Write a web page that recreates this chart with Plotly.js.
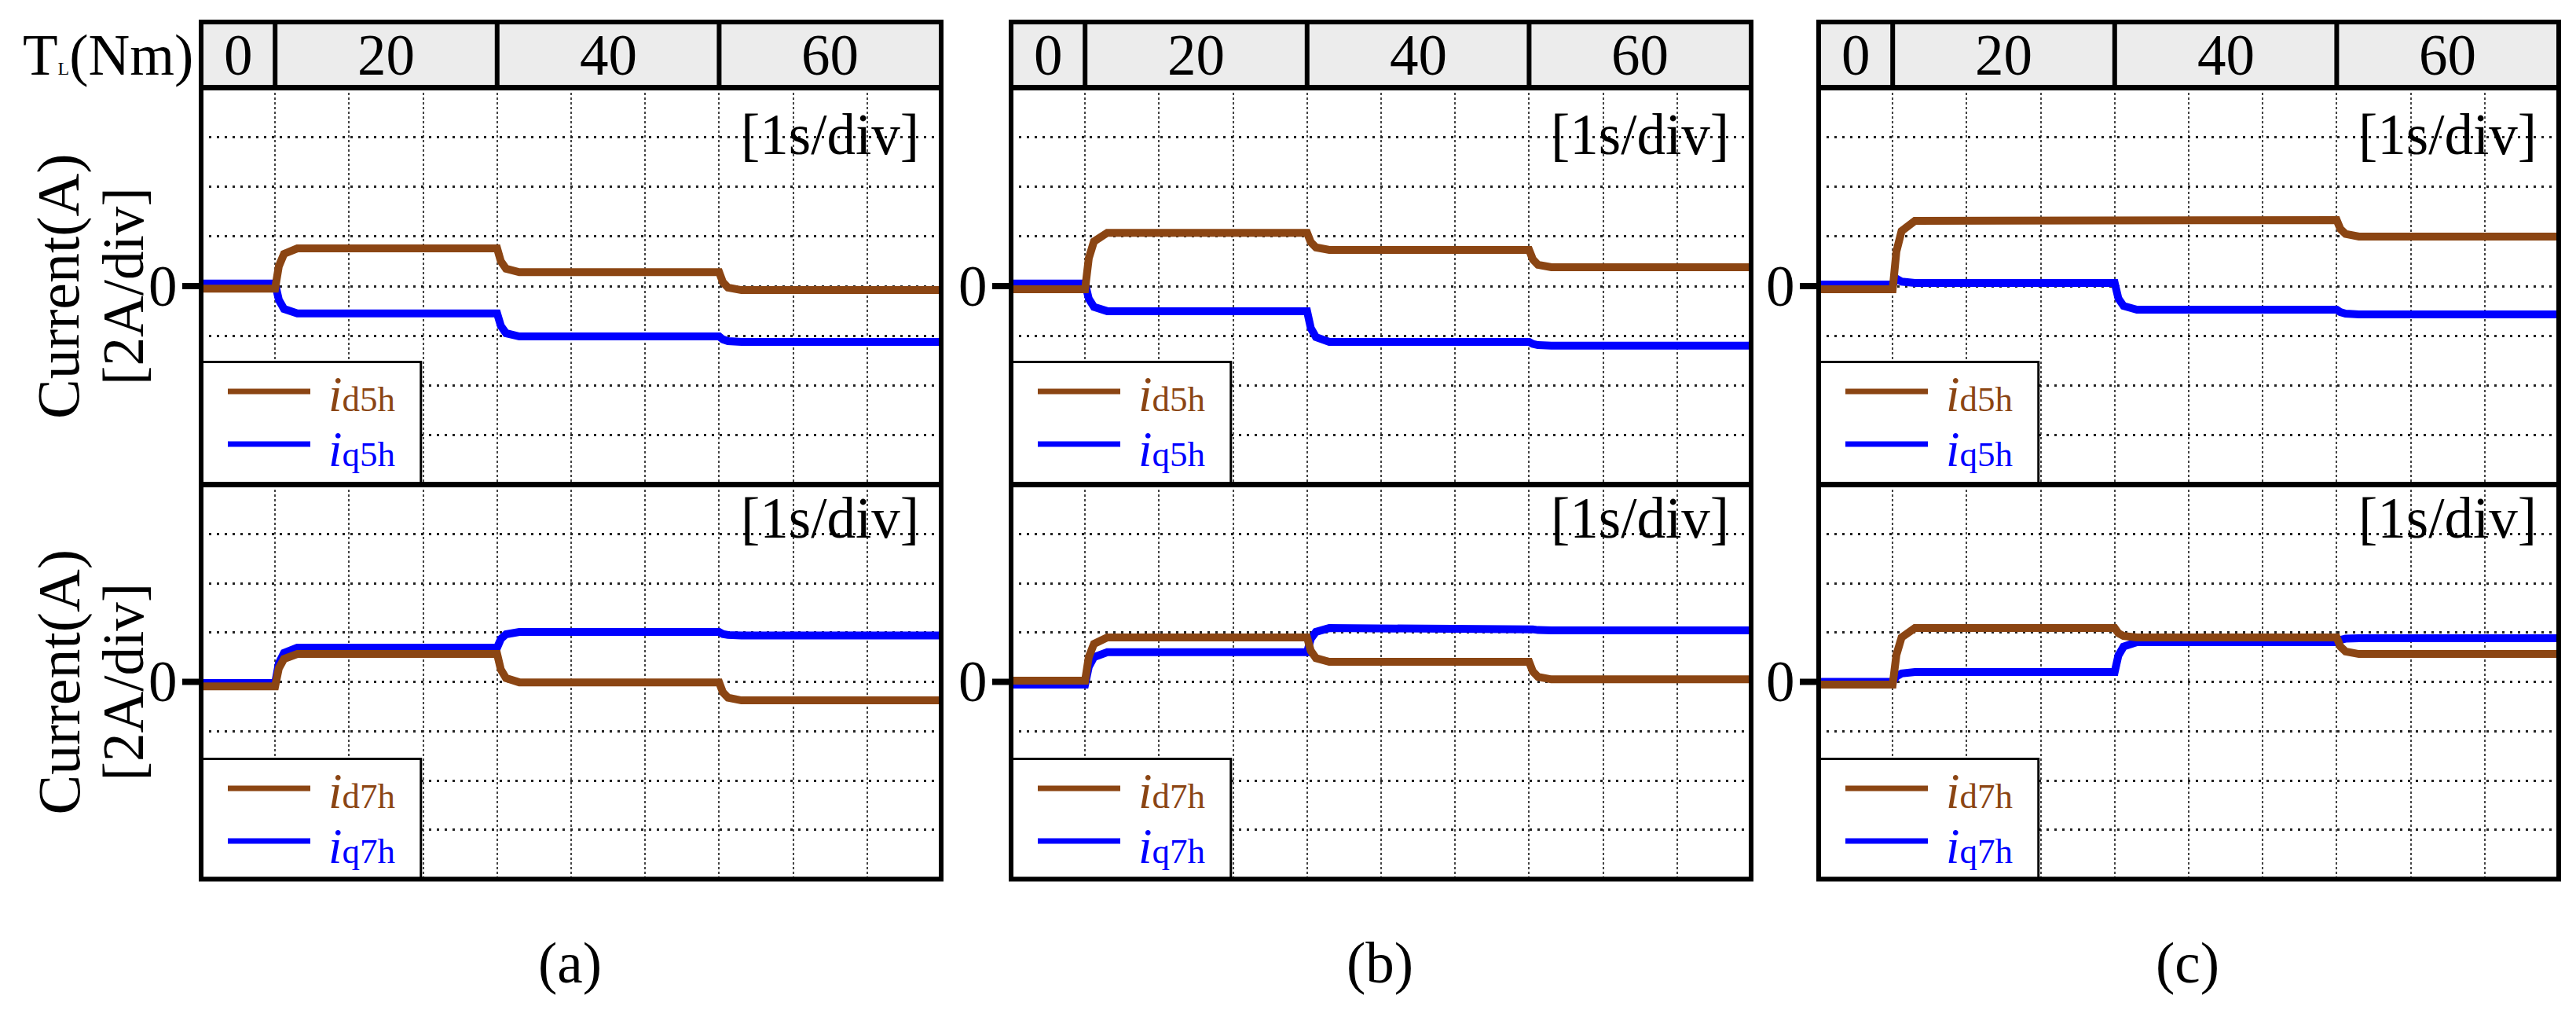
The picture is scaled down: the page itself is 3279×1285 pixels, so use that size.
<!DOCTYPE html>
<html>
<head>
<meta charset="utf-8">
<script src="https://cdn.plot.ly/plotly-3.0.1.min.js"></script>
<style>html,body{margin:0;padding:0;background:#fff;}#chart{width:3279px;height:1285px;}</style>
</head>
<body>
<div id="chart"></div>
<script>
// ---------- DATA (time in s, current in A; 2 A/div, 1 s/div) ----------
const time = [0, 1, 1.05, 1.12, 1.3, 4, 4.05, 4.12, 4.3, 7, 7.05, 7.12, 7.3, 10];

// panel (a)
const a_id5h = [-0.1, -0.1, 0.8, 1.3, 1.52, 1.52, 1.0, 0.7, 0.56, 0.56, 0.16, -0.06, -0.16, -0.16];
const a_iq5h = [0.1, 0.1, -0.55, -0.92, -1.1, -1.1, -1.6, -1.9, -2.03, -2.03, -2.15, -2.22, -2.25, -2.25];
const a_id7h = [-0.18, -0.18, 0.55, 0.93, 1.13, 1.13, 0.5, 0.15, -0.02, -0.02, -0.42, -0.64, -0.75, -0.75];
const a_iq7h = [-0.05, -0.05, 0.75, 1.17, 1.39, 1.39, 1.74, 1.93, 2.02, 2.02, 1.94, 1.9, 1.88, 1.88];
// panel (b)
const b_id5h = [-0.13, -0.13, 1.12, 1.8, 2.15, 2.15, 1.77, 1.56, 1.46, 1.46, 1.08, 0.86, 0.76, 0.76];
const b_iq5h = [0.1, 0.1, -0.51, -0.84, -1.01, -1.01, -1.69, -2.06, -2.25, -2.25, -2.33, -2.38, -2.4, -2.4];
const b_id7h = [0.05, 0.05, 1.01, 1.54, 1.8, 1.8, 1.26, 0.96, 0.81, 0.81, 0.42, 0.2, 0.1, 0.1];
const b_iq7h = [-0.11, -0.11, 0.61, 1.0, 1.2, 1.2, 1.74, 2.03, 2.18, 2.18, 2.13, 2.1, 2.09, 2.09];
// panel (c)
const c_id5h = [-0.13, -0.13, 1.39, 2.22, 2.63, 2.63, 2.65, 2.66, 2.66, 2.66, 2.3, 2.1, 2.0, 2.0];
const c_iq5h = [0.06, 0.06, 0.3, 0.18, 0.13, 0.13, -0.5, -0.8, -0.95, -0.95, -1.05, -1.11, -1.14, -1.14];
const c_id7h = [-0.11, -0.11, 1.09, 1.8, 2.18, 2.18, 1.97, 1.86, 1.8, 1.8, 1.43, 1.23, 1.13, 1.13];
const c_iq7h = [0, 0, 0.22, 0.34, 0.4, 0.4, 1.07, 1.43, 1.61, 1.61, 1.7, 1.75, 1.77, 1.77];

// load torque steps
const torqueLabels = ['0', '20', '40', '60'];
const torqueStepTimes = [0, 1, 4, 7, 10];

const panelLabels = ['(a)', '(b)', '(c)'];
const seriesTop = [[a_id5h, a_iq5h], [b_id5h, b_iq5h], [c_id5h, c_iq5h]];
const seriesBottom = [[a_id7h, a_iq7h], [b_id7h, b_iq7h], [c_id7h, c_iq7h]];
const legendTop = ['d5h', 'q5h'];
const legendBottom = ['d7h', 'q7h'];
const yGridVals = [-6, -4, -2, 0, 2, 4, 6];
const yZeroLabel = '0';
const xGridVals = [1, 2, 3, 4, 5, 6, 7, 8, 9];

// ---------- LAYOUT ----------
const W = 3279, H = 1285;
const px = v => v / W;
const py = v => 1 - v / H;
const FONT = '"Liberation Serif", "Times New Roman", Times, serif';
const BROWN = '#8b4513';
const BLUE = '#0000ff';

const panelLeft = [256, 1287, 2315];
const panelW = 942;
const headerTop = 28, headerBot = 111.5, midLine = 616.5, bottomLine = 1118.5;
const rowTop = [headerBot, midLine];
const rowBot = [midLine, bottomLine];

const layout = {
  width: W, height: H, autosize: false,
  margin: {l: 0, r: 0, t: 0, b: 0, pad: 0},
  paper_bgcolor: '#ffffff', plot_bgcolor: '#ffffff',
  showlegend: false,
  font: {family: FONT, color: '#000', size: 73},
  shapes: [], annotations: []
};
const traces = [];

const legendText = (names) =>
  '<span style="color:' + BROWN + '"><i><span style="font-size:63px">i</span></i>' +
  '<span style="font-size:45px">' + names[0] + '</span></span><br>' +
  '<span style="color:' + BLUE + '"><i><span style="font-size:63px">i</span></i>' +
  '<span style="font-size:45px">' + names[1] + '</span></span>';

for (let p = 0; p < 3; p++) {
  const L = panelLeft[p];
  for (let r = 0; r < 2; r++) {
    const idx = p * 2 + r + 1;
    const xn = idx === 1 ? 'x' : 'x' + idx;
    const yn = idx === 1 ? 'y' : 'y' + idx;
    const xk = idx === 1 ? 'xaxis' : 'xaxis' + idx;
    const yk = idx === 1 ? 'yaxis' : 'yaxis' + idx;
    layout[xk] = {
      domain: [px(L), px(L + panelW)], range: [0, 10], anchor: yn,
      tickmode: 'array', tickvals: xGridVals, showticklabels: false, ticks: '',
      showgrid: true, gridcolor: '#444', gridwidth: 2, griddash: '3px,3px',
      zeroline: false, showline: false, fixedrange: true
    };
    layout[yk] = {
      domain: [py(rowBot[r]), py(rowTop[r])], range: [-8, 8], anchor: xn,
      tickmode: 'array', tickvals: yGridVals, showticklabels: false, ticks: '',
      showgrid: true, gridcolor: '#222', gridwidth: 3, griddash: '3px,7px',
      zeroline: false, showline: false, fixedrange: true
    };
    const data = r === 0 ? seriesTop[p] : seriesBottom[p];
    const names = r === 0 ? legendTop : legendBottom;
    // q (blue) first, d (brown) on top
    traces.push({x: time, y: data[1], xaxis: xn, yaxis: yn, mode: 'lines',
      line: {color: BLUE, width: 10}, name: 'i' + names[1], hoverinfo: 'skip'});
    traces.push({x: time, y: data[0], xaxis: xn, yaxis: yn, mode: 'lines',
      line: {color: BROWN, width: 10}, name: 'i' + names[0], hoverinfo: 'skip'});

    // zero tick mark and its label
    layout.shapes.push({type: 'line', xref: 'paper', yref: yn, x0: px(L - 24), x1: px(L), y0: 0, y1: 0,
      line: {color: '#000', width: 8}, layer: 'above'});
    layout.annotations.push({xref: 'paper', yref: yn, x: px(L - 28), y: 0,
      xanchor: 'right', yanchor: 'middle', showarrow: false, text: yZeroLabel,
      font: {family: FONT, size: 73, color: '#000'}});
    // legend box
    const T0 = rowTop[r];
    layout.shapes.push({type: 'rect', xref: xn, yref: 'paper', x0: 0, x1: 2.97,
      y0: py(rowBot[r]), y1: py(T0 + 349), fillcolor: '#fff', line: {color: '#000', width: 3}, layer: 'above'});
    layout.shapes.push({type: 'line', xref: 'paper', yref: 'paper', x0: px(L + 34), x1: px(L + 139),
      y0: py(T0 + 386.5), y1: py(T0 + 386.5), line: {color: BROWN, width: 7}, layer: 'above'});
    layout.shapes.push({type: 'line', xref: 'paper', yref: 'paper', x0: px(L + 34), x1: px(L + 139),
      y0: py(T0 + 453.5), y1: py(T0 + 453.5), line: {color: BLUE, width: 7}, layer: 'above'});
    layout.annotations.push({xref: 'paper', yref: 'paper', x: px(L + 160), y: py(T0 + 425),
      xanchor: 'left', yanchor: 'middle', align: 'left', showarrow: false,
      text: legendText(names), font: {family: FONT, size: 54, color: '#000'}});
    // [1s/div]
    layout.annotations.push({xref: 'paper', yref: 'paper', x: px(L + panelW - 26),
      y: py(r === 0 ? 172 : 660), xanchor: 'right', yanchor: 'middle', showarrow: false,
      text: '[1s/div]', font: {family: FONT, size: 73, color: '#000'}});
  }
  const xTop = p === 0 ? 'x' : 'x' + (p * 2 + 1);
  // header fill
  layout.shapes.push({type: 'rect', xref: xTop, yref: 'paper', x0: 0, x1: 10,
    y0: py(headerBot), y1: py(headerTop), fillcolor: '#ececec', line: {width: 0}, layer: 'below'});
  // header dividers & labels
  for (let k = 0; k < torqueLabels.length; k++) {
    const t0 = torqueStepTimes[k], t1 = torqueStepTimes[k + 1];
    if (k > 0) {
      layout.shapes.push({type: 'line', xref: xTop, yref: 'paper', x0: t0, x1: t0,
        y0: py(headerBot), y1: py(headerTop), line: {color: '#000', width: 6}, layer: 'above'});
    }
    layout.annotations.push({xref: xTop, yref: 'paper', x: (t0 + t1) / 2, y: py(70),
      xanchor: 'center', yanchor: 'middle', showarrow: false, text: torqueLabels[k],
      font: {family: FONT, size: 73, color: '#000'}});
  }
  // frame
  layout.shapes.push({type: 'rect', xref: 'paper', yref: 'paper', x0: px(L), x1: px(L + panelW),
    y0: py(bottomLine), y1: py(headerTop), line: {color: '#000', width: 6}, layer: 'above'});
  layout.shapes.push({type: 'line', xref: 'paper', yref: 'paper', x0: px(L), x1: px(L + panelW),
    y0: py(headerBot), y1: py(headerBot), line: {color: '#000', width: 7}, layer: 'above'});
  layout.shapes.push({type: 'line', xref: 'paper', yref: 'paper', x0: px(L), x1: px(L + panelW),
    y0: py(midLine), y1: py(midLine), line: {color: '#000', width: 7}, layer: 'above'});
  // panel label
  layout.annotations.push({xref: 'paper', yref: 'paper', x: px(L + panelW / 2 - 2), y: py(1225),
    xanchor: 'center', yanchor: 'middle', showarrow: false, text: panelLabels[p],
    font: {family: FONT, size: 73, color: '#000'}});
}

// T_L(Nm)
layout.annotations.push({xref: 'paper', yref: 'paper', x: px(248), y: py(70),
  xanchor: 'right', yanchor: 'middle', showarrow: false,
  text: 'T<span style="font-size:24px">L</span>(Nm)', font: {family: FONT, size: 73, color: '#000'}});

// y titles (panel a) – two lines, line spacing ~82px
for (let r = 0; r < 2; r++) {
  const cy = (rowTop[r] + rowBot[r]) / 2;
  layout.annotations.push({xref: 'paper', yref: 'paper', x: px(115), y: py(cy), textangle: -90,
    xanchor: 'center', yanchor: 'middle', showarrow: false,
    text: '<span style="font-size:76px">Current(A)</span><br><span style="font-size:73px">[2A/div]</span>',
    font: {family: FONT, size: 63, color: '#000'}});
}

Plotly.newPlot('chart', traces, layout, {staticPlot: true, displayModeBar: false});
</script>
</body>
</html>
